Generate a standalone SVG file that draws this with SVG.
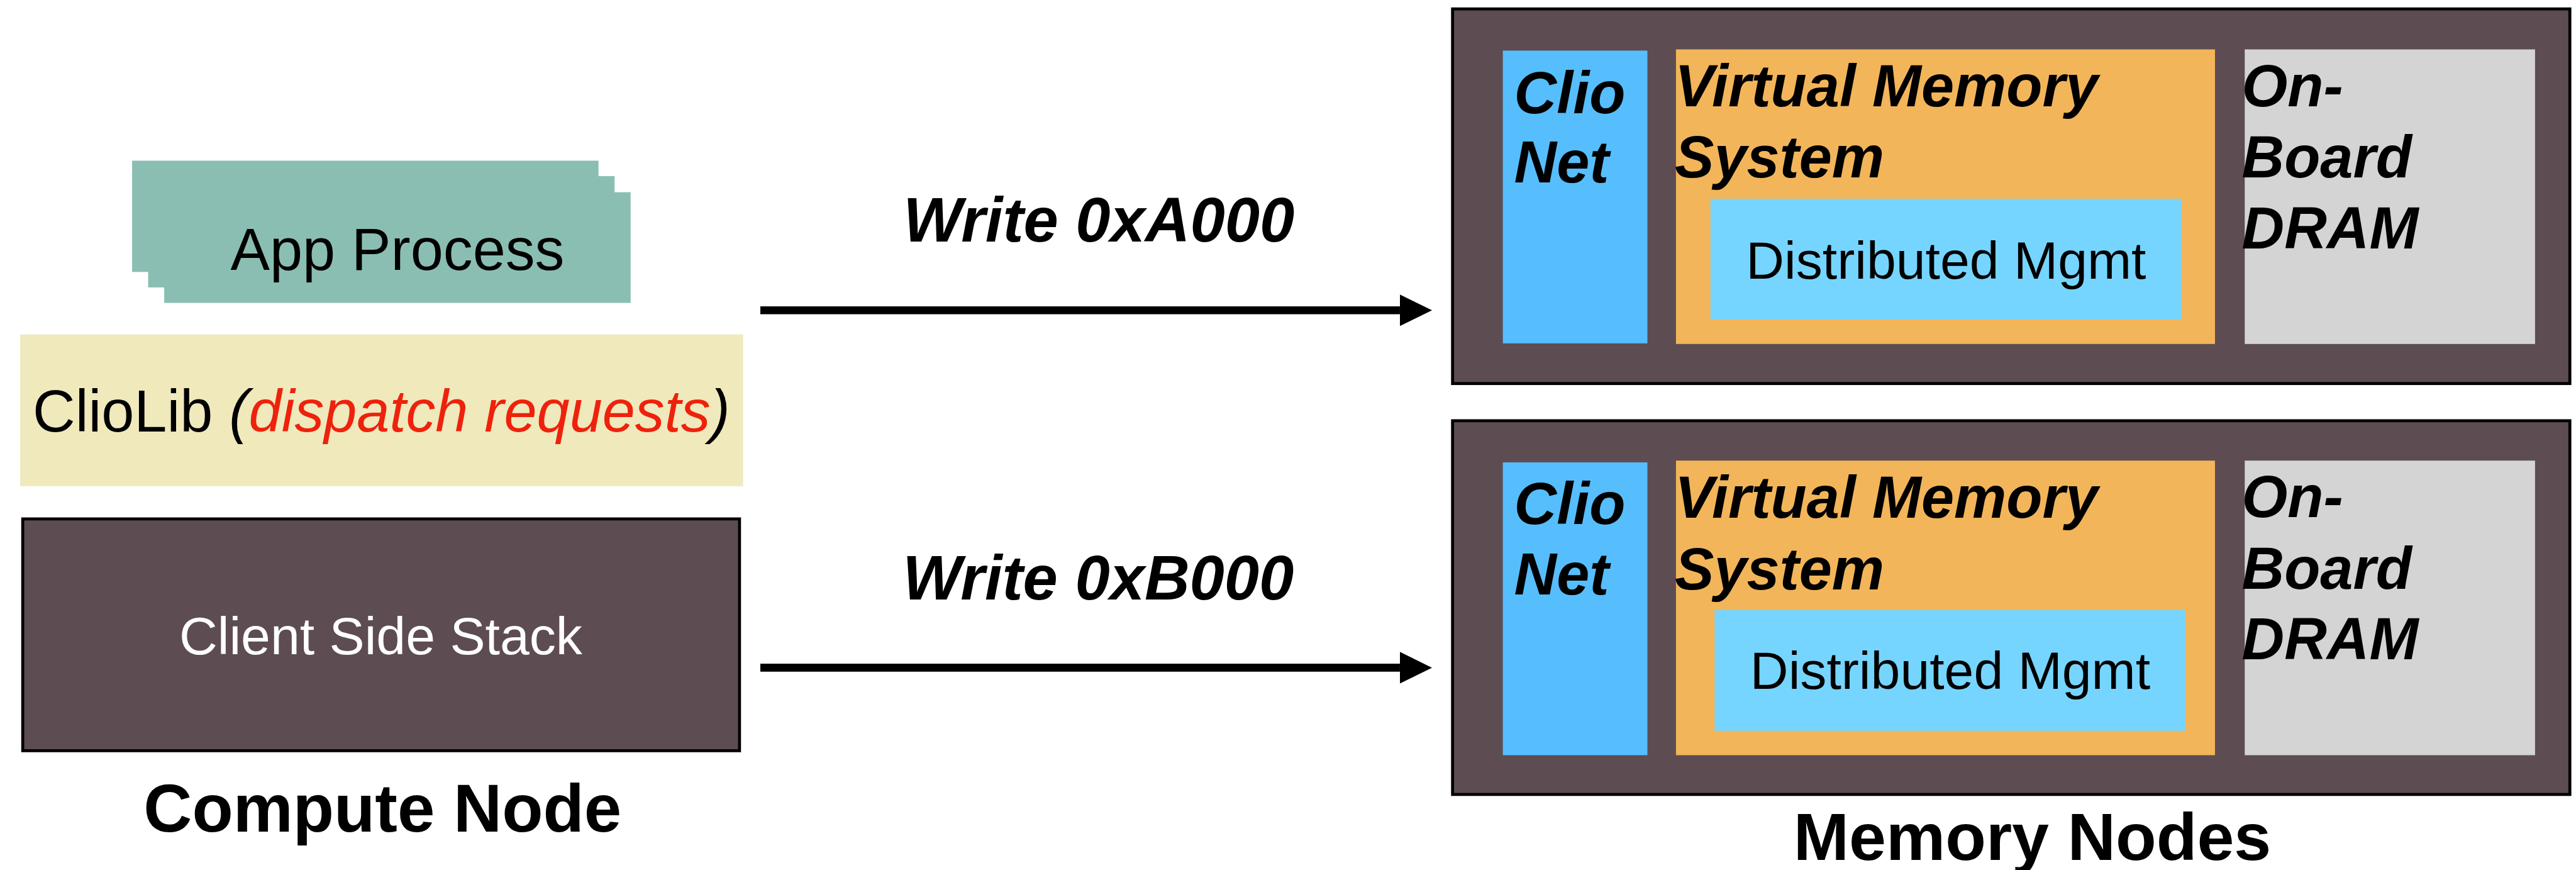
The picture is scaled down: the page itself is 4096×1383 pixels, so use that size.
<svg xmlns="http://www.w3.org/2000/svg" width="4096" height="1383" viewBox="0 0 4096 1383">
<defs>
<style>
text{font-family:"Liberation Sans",Arial,Helvetica,sans-serif;fill:#000}
.app{fill:#8BBEB2}
.lib{fill:#EFE9BC}
.dark{fill:#5D4C52;stroke:#000;stroke-width:5}
.net{fill:#56BEFC}
.vm{fill:#F3B55A}
.dm{fill:#76D5FF}
.dram{fill:#D4D4D4}
.bi{font-weight:bold;font-style:italic;font-size:99px}
.reg{font-size:89px}
.conn{stroke:#000;stroke-width:13.4;fill:none}
</style>
<marker id="ah" markerUnits="userSpaceOnUse" markerWidth="54" markerHeight="54" refX="0" refY="26.5" orient="auto">
<path d="M0,0 L54,26.5 L0,53 Z" fill="#000"/>
</marker>
</defs>
<rect width="4096" height="1383" fill="#fff"/>
<g transform="scale(0.946)">
<g id="app-process">
<rect class="app" x="222" y="270" width="784" height="187"/>
<rect class="app" x="249" y="296" width="784" height="187"/>
<rect class="app" x="276" y="323" width="784" height="186"/>
<text x="668" y="453" font-size="99" text-anchor="middle">App Process</text>
</g>
<g id="cliolib">
<rect class="lib" x="34" y="562" width="1215" height="255"/>
<text x="641" y="725" font-size="99" text-anchor="middle">ClioLib <tspan font-style="italic">(</tspan><tspan font-style="italic" fill="#EE220C">dispatch requests</tspan><tspan font-style="italic">)</tspan></text>
</g>
<g id="client-stack">
<rect class="dark" x="38.2" y="872" width="1204.8" height="389.5"/>
<text x="640" y="1099" class="reg" text-anchor="middle" fill="#fff" style="fill:#fff">Client Side Stack</text>
</g>
<g id="compute-label">
<text x="643" y="1397" font-size="113" font-weight="bold" text-anchor="middle">Compute Node</text>
</g>
<g id="connectors">
<line class="conn" x1="1278" y1="521.4" x2="2353" y2="521.4" marker-end="url(#ah)"/>
<line class="conn" x1="1278" y1="1122" x2="2353" y2="1122" marker-end="url(#ah)"/>
<text x="1847" y="406" font-size="105" font-weight="bold" font-style="italic" text-anchor="middle">Write 0xA000</text>
<text x="1846" y="1007" font-size="105" font-weight="bold" font-style="italic" text-anchor="middle">Write 0xB000</text>
</g>
<g id="memory-node-1">
<rect class="dark" x="2441.5" y="15" width="1878" height="629.5"/>
<rect class="net" x="2526" y="85" width="243" height="492"/>
<rect class="vm" x="2817" y="83" width="906" height="495"/>
<rect class="dm" x="2875" y="334" width="791" height="203"/>
<rect class="dram" x="3773" y="83" width="488" height="495"/>
<text class="bi" x="2545" y="190">Clio</text>
<text class="bi" x="2545" y="307">Net</text>
<text class="bi" x="2815" y="178.6">Virtual Memory</text>
<text class="bi" x="2815" y="298">System</text>
<text class="reg" x="3271" y="468" text-anchor="middle">Distributed Mgmt</text>
<text class="bi" x="3768" y="178.6">On-</text>
<text class="bi" x="3768" y="298">Board</text>
<text class="bi" x="3768" y="418">DRAM</text>
</g>
<g id="memory-node-2">
<rect class="dark" x="2441.5" y="707" width="1878" height="628"/>
<rect class="net" x="2526" y="777" width="243" height="492"/>
<rect class="vm" x="2817" y="774" width="906" height="495"/>
<rect class="dm" x="2882" y="1025" width="791" height="203"/>
<rect class="dram" x="3773" y="774" width="488" height="495"/>
<text class="bi" x="2545" y="881">Clio</text>
<text class="bi" x="2545" y="999">Net</text>
<text class="bi" x="2815" y="870.5">Virtual Memory</text>
<text class="bi" x="2815" y="990.6">System</text>
<text class="reg" x="3278" y="1158" text-anchor="middle">Distributed Mgmt</text>
<text class="bi" x="3768" y="869">On-</text>
<text class="bi" x="3768" y="989">Board</text>
<text class="bi" x="3768" y="1108">DRAM</text>
</g>
<g id="memory-label">
<text x="3416" y="1445" font-size="112" font-weight="bold" text-anchor="middle">Memory Nodes</text>
</g>
</g>
</svg>
